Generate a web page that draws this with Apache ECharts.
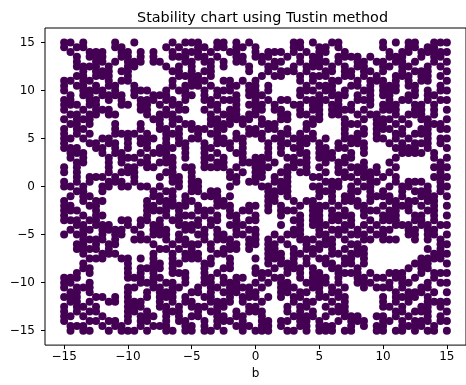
<!DOCTYPE html>
<html>
<head>
<meta charset="utf-8">
<script src="https://cdn.jsdelivr.net/npm/echarts@6/dist/echarts.min.js"></script>
<style>
html, body { margin: 0; padding: 0; background: #fff; }
#main { width: 466px; height: 385px; }
</style>
</head>
<body>
<div id="main"></div>
<script>
//刻度
var xTicks = [-15, -10, -5, 0, 5, 10, 15];
var yTicks = [-15, -10, -5, 0, 5, 10, 15];

//点的分布: 第一行 y=15, 第一列 x=-15, 间距 0.5, '#' = 有点
var gridStep = 0.5;
var dotMap = [
    "##.#....#. .#.....#.# ##..##.#.# ......##.# ..##...... #.#.##..## #",
    "#.##....## ......#.#. .##.##.##. #.....##.. ##.#...... #...##.##. .",
    ".#..###..# #.#.#..#.# ##.#..##.. #.###.#.#. ##..#..... .#.##.#### #",
    "..#.###..# #.#.#..### .##.#..##. ###..#.#.# #..####.#. .###..#.## .",
    "..#..##.#. ###.##...# #.##.#.##. .#.##..#.# ##.#..##.# #.##.#..#. #",
    "..####.#.. ##....#.#. #..#.#...# ..##..#.## #.#.#.##.. ##.##..#.# .",
    "...#.###.# #......##. #.##.....# ..#.###.#. .##.##.##. #..#.###.. #",
    "..##.###.. #.......## ##.#...... .#.##..#.# ##..##.#.# ..###.##.# .",
    "##.##..#.# #......#.. ###..##.#. #......#.# ..##..#.## #.#.#.##.. #",
    "#.##.#.##. .#.....#.# ##.#..##.# #.#.....#. ###..##.#. ###.##...# .",
    "#..####.#. .###..#.## ..#.###..# #.#....### .##.#..##. ###..#.#.# #",
    ".#.##.#### .#..###..# #.#.#..#.# ##.....#.. #.###.#.#. ##..##.##. .",
    "##..##.#.# ..###.##.# ..##.###.. #.#.##..## ##.#..###. .#.##..#.# #",
    "###.##...# #.##.#.##. ...##..#.# ##.#..##.# #.##.#..#. ###..##.#. .",
    "#..#.###.. ..##..#.## ..#.#.##.. ##.##..#.# #.####.#.. ###..##.#. #",
    ".##.##.##. ...#.###.. ...#.###.# #...##.##. #.##..#.## ..#.###.#. .",
    "#.###..... ....##.##. ...##.#### .#..##...# #...#..#.# ##.#..##.. #",
    ".##.#...#. ..#..#.#.# #..####.#. .###....## ....###..# #.#.#..### .",
    "#.##....#. ..#..##.#. ###.##...# #.##.#..#. ....#..#.# ##.#..##.# #",
    "#.#.#...## ##.#..###. .#.##..#.# ##..##.#.# ....#.##.# ..##.###.. .",
    "##.#..##.. #.###.#.#. ##..##.##. .#.##.#### .#..###..# #.#.#..#.# #",
    "#...##.##. #.##..#.## ..#.###.#. ..#.##.##. #..#.###.. .#.#.###.# .",
    "###..##.#. #..#.###.# ..##..#.#. ..#.#.##.. ##.##..#.. ..####.#.. #",
    ".###..#.## ..#.###..# ..#.#..##. ..#.#..##. ###..#.#.. ...####.#. .",
    ".#.#...#.# ##.#..##.# ..##.#..#. ###..##.#. ###.##.... ..#.....#. #",
    "..##...#.# ..##.###.. ..#.##..## ##.#..###. .#.##..#.. .#.......# .",
    "#.#....#.. ##.##..#.# #.####.#.. ###..##.#. #..#.###.# ..#.....## #",
    "#.#....#.# ##....##.. #.....#.#. ##..##.##. .#.##.#### .#.......# .",
    "..#.###.#. .#...#.##. #.....##.. ##.#.#...# #...##.##. #.#.....## #",
    "#.#.#..### .#.....##. ##.....#.# #..###.... .###..#.## ..#.###..# .",
    "##.#..##.# #.##.#..#. ##....#... .##.##...# #.##.#.##. .#.##..#.# #",
    "..##..#... ....#.##.. ##.##..... ..####.... ###..##.#. #..#.###.# .",
    ".#.##..... ....##.#.# ..###.#... ..##.#.... #.#.##..## ##.#..###. #",
    "#..#.##... ...#.###.# #...##.... ..##..#.## ..#.###.#. .##.##.##. .",
    "##..##.... ...##.#### .#..###..# #.#.#..#.# ##.#..##.. #.###.#.#. #",
    "###..#.... ...####.#. .###..#.## ..#.###..# #.#.#..### .##.#..##. .",
    "#..#.##... ...#..#.## #.#.#.##.. #...#..#.# #.####.#.. ###..##.#. #",
    "###.##...# #.##.#.##. .#.##..#.# #.....##.# #.##.#..#. ###..##.#. .",
    "..##.###.. #.#.##..## ##.#..###. ....#..#.# ##..##.#.# ..###.##.# #",
    ".#.##.#### .#..###..# #.#.#..#.# #.....##.. #.###.#.#. ##..##.##. .",
    "#.##..#.## ..#.###.#. .##.##.##. #..#.###.. ##.#.###.# #...##.##. #",
    "...####.#. .###..#.## ..#.###..# #.#.#..### .##.#..##. ###..#.#.# .",
    "..##.#.##. ....#..#.# ##.#..##.# #.##.#..#. ###..##... .........# #",
    "..####.#.. .....##.#. #..#.###.# ..##..#.## #.#.#.##.. .......#.# .",
    "...#..###. ....#..#.# ##..##.... ..###.##.# ..##.###.. ........## #",
    "....###..# #.#.#..#.# ##.#..#... #.###.#.#. ##..##.#.. ......#### .",
    "...#...... #...##.##. ..##..#... ..#.###.#. .##.##.#.. .....###.. #",
    "...##..... #.####.#.. ..#..##... #..#.###.# ..##..#... ....#.##.. .",
    "..#.#..... #.#.#..### ..#.#..... ###..#.#.# #..####.#. .###..#.## #",
    "###....... ###.##...# ..##.#.##. .#.##..#.# ##.#..##.# #.##.#..#. .",
    "##..#..... ..###.##.# ..##.###.. #.#.##..## ##.#..###. .#.##..#.# #",
    "#.###..... ##..##.##. .#.##.#### .#..###..# #.#.#..#.# ##.#..##.. .",
    ".##.#..... #..#.###.. ##.#.###.# #...##.##. #.##...... ..#.###.#. #",
    "###..##.#. #..#.###.# ..##..#.## #.#.#.##.. ##.##..... #.####.#.. .",
    ".##.#..##. ###..#.#.# #..####.#. .#....#.## ..#.#..... #.#.#..### #",
    "#.##.#.... ###..##.#. ###.##...# #....#.##. .#.##..... ##.#..##.# .",
    "#.#.##.... ##.#..###. .#.##..#.# ##...#.#.# ..###..... ..##.###.. #",
    "##.#..#... #.###.#.#. ##..##.##. .#....#### .#..###..# #.#.#..#.# .",
    "#...##.##. #.##..#.## ..#.###.#. .##.##.##. #..#.###.. ##.#.###.# #",
    ".###..#.## ..#.###..# #.#.#..### .##.#..##. ###..#.#.# #..####.#. .",
    ".#.##..#.# ##.#..##.# #.##.#..#. ###..##.#. ###.##...# #.##.#.##. #"
];

//把点阵转成坐标
var points = [];
for (var r = 0; r < dotMap.length; r++) {
    var line = dotMap[r].replace(/ /g, '');
    for (var c = 0; c < line.length; c++) {
        if (line.charAt(c) == '#') {
            points.push([xTicks[0] + c * gridStep, yTicks[yTicks.length - 1] - r * gridStep]);
        }
    }
}

function minusLabel(v) {
    return String(v).replace('-', '\u2212');
}

var myChart = echarts.init(document.getElementById('main'));
var option = {
    animation: false,
    backgroundColor: '#fff',
    title: {
        text: 'Stability chart using Tustin method',
        left: 132,
        top: 6,
        textStyle: {
            fontFamily: 'DejaVu Sans',
            fontSize: 14.4,
            fontWeight: 'normal',
            color: '#000'
        }
    },
    grid: {
        show: true,
        borderColor: '#000',
        borderWidth: 1,
        left: 45,
        top: 28,
        width: 428,
        height: 320
    },
    xAxis: {
        type: 'value',
        min: -16.5,
        max: 16.5,
        name: 'b',
        nameLocation: 'middle',
        nameGap: 21,
        nameTextStyle: { fontFamily: 'DejaVu Sans', fontSize: 12, color: '#000' },
        axisLine: { show: false, onZero: false },
        splitLine: { show: false },
        axisTick: {
            show: true,
            inside: false,
            length: 4,
            customValues: xTicks,
            lineStyle: { color: '#000', width: 1 }
        },
        axisLabel: {
            customValues: xTicks,
            margin: 6,
            fontFamily: 'DejaVu Sans',
            fontSize: 12,
            color: '#000',
            formatter: minusLabel
        }
    },
    yAxis: {
        type: 'value',
        min: -16.5,
        max: 16.5,
        axisLine: { show: false, onZero: false },
        splitLine: { show: false },
        axisTick: {
            show: true,
            inside: false,
            length: 4,
            customValues: yTicks,
            lineStyle: { color: '#000', width: 1 }
        },
        axisLabel: {
            customValues: yTicks,
            margin: 10,
            fontFamily: 'DejaVu Sans',
            fontSize: 12,
            color: '#000',
            formatter: minusLabel
        }
    },
    series: [{
        type: 'scatter',
        data: points,
        symbol: 'circle',
        symbolSize: 8,
        itemStyle: {
            color: '#440154',
            opacity: 1
        }
    }]
};
myChart.setOption(option);
</script>
</body>
</html>
